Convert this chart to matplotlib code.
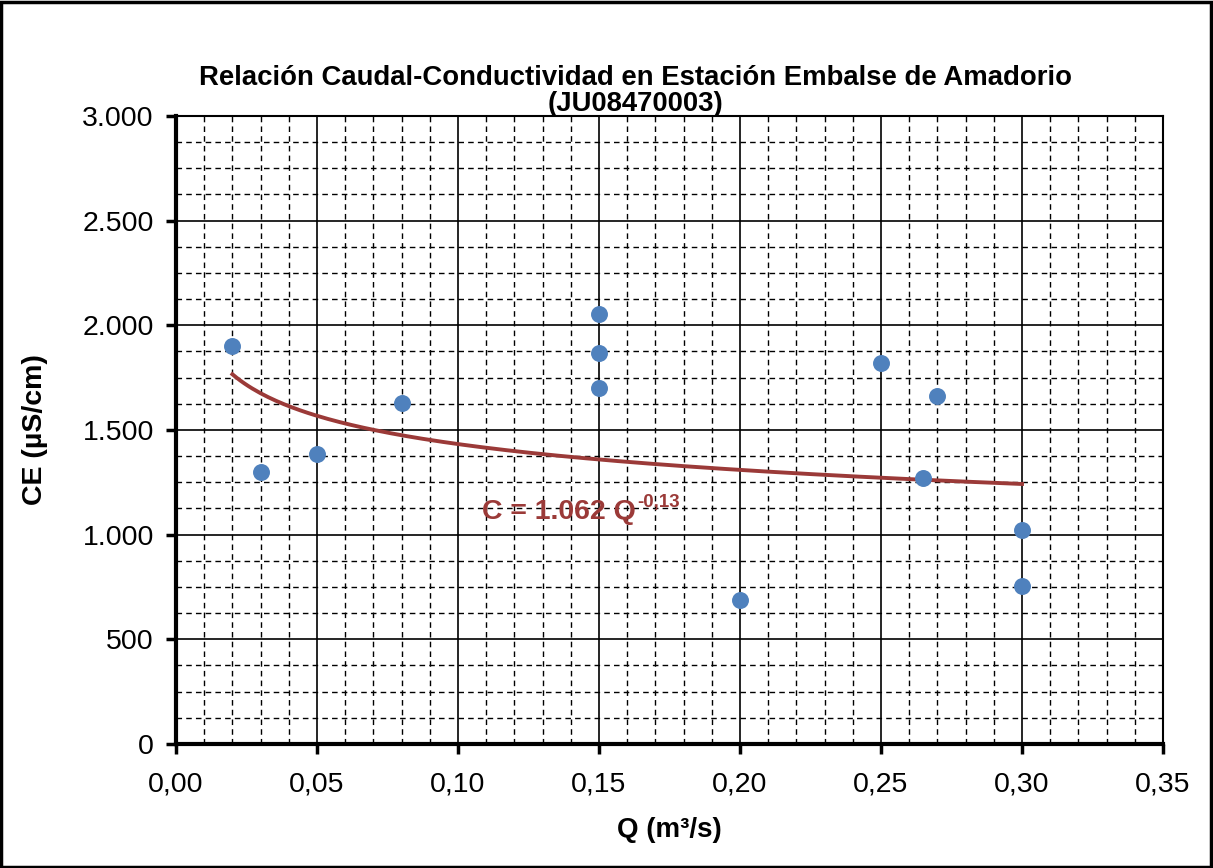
import matplotlib.pyplot as plt
import numpy as np
from matplotlib.ticker import MultipleLocator, FuncFormatter

plt.rcParams['font.family'] = ['Liberation Sans', 'DejaVu Sans']

# caudal (m3/s) y conductividad (uS/cm)
q = [0.02, 0.03, 0.05, 0.08, 0.15, 0.15, 0.15, 0.20, 0.25, 0.265, 0.27, 0.30, 0.30]
ce = [1900, 1300, 1385, 1630, 2055, 1870, 1700, 690, 1820, 1270, 1660, 1020, 755]

# ajuste potencial C = a * Q^b
coef_a = 1062
coef_b = -0.13
q_fit = np.linspace(min(q), max(q), 200)
c_fit = coef_a * q_fit ** coef_b

rojo = '#9B3A38'

fig = plt.figure(figsize=(12.13, 8.68), dpi=100)
ax = fig.add_axes([0.1451, 0.1429, 0.8137, 0.7235])

ax.scatter(q, ce, s=125, color='#4F81BD', zorder=3)
ax.plot(q_fit, c_fit, color=rojo, lw=2.8, zorder=2)

ax.set_xlim(0, 0.35)
ax.set_ylim(0, 3000)
ax.xaxis.set_major_locator(MultipleLocator(0.05))
ax.xaxis.set_minor_locator(MultipleLocator(0.01))
ax.yaxis.set_major_locator(MultipleLocator(500))
ax.yaxis.set_minor_locator(MultipleLocator(125))
ax.xaxis.set_major_formatter(FuncFormatter(lambda v, p: f'{v:.2f}'.replace('.', ',')))
ax.yaxis.set_major_formatter(FuncFormatter(lambda v, p: f'{int(round(v)):,}'.replace(',', '.')))

ax.grid(which='major', color='black', lw=1.2)
ax.grid(which='minor', color='black', lw=1.0, ls=(0, (4, 3)))
ax.set_axisbelow(True)
ax.tick_params(which='major', direction='out', length=7, width=2.5, labelsize=20.5)
ax.tick_params(axis='x', pad=13)
ax.tick_params(axis='y', pad=9)
ax.tick_params(which='minor', length=0)
for s in ax.spines.values():
    s.set_linewidth(1.5)
ax.spines['left'].set_linewidth(3)
ax.spines['bottom'].set_linewidth(3)

fig.text(0.5235, 1 - 91 / 868,
         'Relación Caudal-Conductividad en Estación Embalse de Amadorio\n(JU08470003)',
         fontsize=19.8, fontweight='bold', ha='center', va='center', linespacing=1.02)
ax.set_xlabel('Q (m³/s)', fontsize=20, fontweight='bold', va='center')
ax.set_ylabel('CE (µS/cm)', fontsize=20.5, fontweight='bold', va='center')
ax.xaxis.set_label_coords(0.5, -0.137)
ax.yaxis.set_label_coords(-0.143, 0.5)

eq = ax.text(0.1085, 1110, 'C = 1.062 Q', color=rojo, fontsize=20.5,
             fontweight='bold', va='center', ha='left')
ax.annotate('-0,13', xy=(1.0, 0.85), xycoords=eq, xytext=(1, 0), textcoords='offset points',
            color=rojo, fontsize=13.5, fontweight='bold', va='center', ha='left')

fig.patches.append(plt.Rectangle((0.001, 0.001), 0.997, 0.997, transform=fig.transFigure,
                                 fill=False, edgecolor='black', lw=2.5))

fig.savefig('out.png', dpi=100)
